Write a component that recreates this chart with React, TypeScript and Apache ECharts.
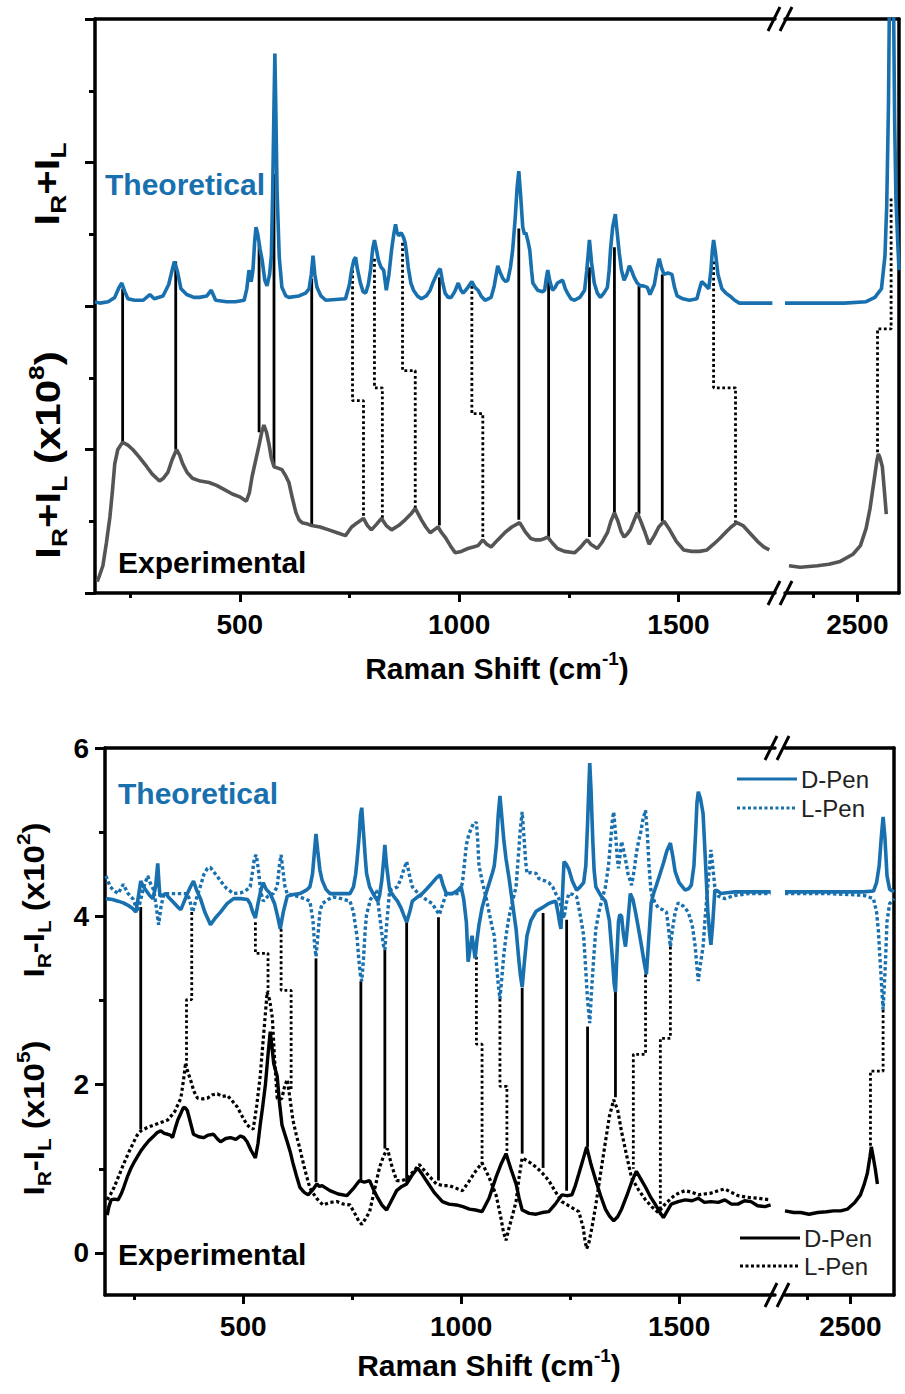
import React, { useEffect, useRef } from 'react';
import * as echarts from 'echarts';

// ---------------- TOP PANEL (I_R + I_L) ----------------
const topTheoLeft = [[170,2.03],[181,2.02],[200,2.03],[215,2.06],[225,2.13],[231,2.16],[238,2.10],[245,2.05],[260,2.04],[280,2.04],[295,2.08],[305,2.05],[325,2.07],[338,2.15],[345,2.24],[351,2.31],[358,2.24],[366,2.12],[379,2.08],[395,2.06],[408,2.06],[425,2.07],[435,2.11],[445,2.04],[470,2.03],[490,2.03],[510,2.04],[516,2.12],[521,2.25],[526,2.17],[530,2.25],[534,2.45],[537,2.55],[541,2.50],[546,2.40],[551,2.32],[557,2.18],[562,2.14],[568,2.22],[572,2.35],[575,2.8],[578,3.4],[580,3.76],[582,3.4],[585,2.8],[590,2.34],[596,2.13],[605,2.07],[612,2.06],[635,2.07],[650,2.09],[658,2.12],[663,2.22],[667,2.35],[671,2.22],[676,2.13],[685,2.07],[696,2.04],[741,2.05],[750,2.15],[755,2.25],[760,2.32],[764,2.34],[768,2.26],[775,2.16],[781,2.10],[787,2.09],[793,2.15],[798,2.25],[803,2.40],[807,2.46],[811,2.40],[816,2.32],[822,2.27],[828,2.25],[834,2.11],[840,2.22],[846,2.39],[851,2.50],[855,2.57],[858,2.52],[862,2.49],[868,2.51],[873,2.48],[877,2.44],[881,2.35],[884,2.27],[890,2.16],[896,2.11],[905,2.07],[914,2.05],[925,2.07],[934,2.11],[940,2.16],[946,2.20],[952,2.24],[957,2.26],[962,2.17],[968,2.09],[975,2.06],[982,2.06],[990,2.10],[998,2.16],[1004,2.11],[1009,2.09],[1015,2.11],[1020,2.13],[1029,2.17],[1036,2.13],[1043,2.11],[1050,2.07],[1059,2.04],[1073,2.06],[1080,2.14],[1088,2.28],[1094,2.23],[1100,2.19],[1106,2.17],[1111,2.18],[1117,2.27],[1122,2.39],[1128,2.62],[1132,2.82],[1136,2.94],[1140,2.78],[1145,2.55],[1149,2.50],[1152,2.51],[1157,2.45],[1161,2.39],[1165,2.25],[1168,2.16],[1179,2.11],[1190,2.10],[1195,2.11],[1198,2.18],[1202,2.25],[1207,2.17],[1213,2.11],[1219,2.13],[1224,2.16],[1230,2.17],[1236,2.18],[1242,2.12],[1247,2.09],[1255,2.05],[1263,2.04],[1275,2.06],[1286,2.11],[1291,2.25],[1297,2.46],[1302,2.30],[1308,2.16],[1315,2.09],[1322,2.06],[1330,2.09],[1338,2.13],[1342,2.25],[1345,2.39],[1350,2.55],[1356,2.64],[1360,2.52],[1365,2.37],[1370,2.25],[1376,2.18],[1382,2.22],[1388,2.28],[1394,2.24],[1399,2.20],[1406,2.16],[1413,2.14],[1420,2.14],[1429,2.13],[1435,2.08],[1445,2.15],[1451,2.26],[1456,2.33],[1462,2.26],[1467,2.22],[1476,2.23],[1485,2.22],[1491,2.13],[1497,2.07],[1510,2.05],[1525,2.04],[1542,2.05],[1548,2.12],[1553,2.17],[1560,2.15],[1569,2.12],[1574,2.25],[1577,2.38],[1580,2.46],[1584,2.38],[1590,2.22],[1599,2.12],[1608,2.09],[1617,2.07],[1628,2.04],[1639,2.02],[1670,2.02],[1714,2.02]];
const topTheoRight = [[2335,2.02],[2400,2.02],[2470,2.02],[2520,2.03],[2540,2.06],[2555,2.12],[2563,2.35],[2567,2.7],[2571,3.4],[2574,4.4],[2576,4.6],[2579,4.6],[2582,4.3],[2585,3.3],[2588,2.75],[2592,2.45],[2595,2.25]];
const topExpLeft = [[175,0.08],[180,0.12],[188,0.19],[196,0.35],[204,0.53],[210,0.72],[215,0.90],[222,1.00],[233,1.05],[245,1.03],[256,1.00],[270,0.95],[288,0.88],[300,0.83],[317,0.78],[326,0.80],[336,0.84],[346,0.93],[356,1.00],[363,0.96],[370,0.90],[380,0.84],[392,0.80],[410,0.78],[430,0.77],[447,0.75],[465,0.72],[483,0.69],[500,0.67],[515,0.64],[522,0.70],[528,0.81],[536,0.92],[544,1.03],[550,1.12],[555,1.17],[561,1.12],[567,1.03],[572,0.94],[578,0.88],[587,0.87],[596,0.86],[604,0.82],[612,0.77],[620,0.66],[628,0.56],[635,0.51],[642,0.49],[655,0.48],[664,0.47],[683,0.46],[703,0.44],[722,0.42],[741,0.40],[748,0.43],[755,0.46],[768,0.49],[782,0.52],[791,0.47],[800,0.44],[812,0.48],[823,0.52],[834,0.47],[846,0.44],[862,0.47],[877,0.51],[890,0.55],[900,0.59],[907,0.55],[914,0.51],[924,0.46],[934,0.42],[943,0.44],[952,0.46],[960,0.42],[968,0.39],[980,0.33],[991,0.28],[1005,0.29],[1020,0.31],[1032,0.32],[1043,0.33],[1054,0.37],[1063,0.34],[1073,0.32],[1088,0.37],[1104,0.42],[1120,0.46],[1138,0.49],[1150,0.43],[1163,0.38],[1175,0.37],[1186,0.37],[1195,0.38],[1202,0.39],[1212,0.35],[1224,0.31],[1240,0.29],[1263,0.28],[1270,0.30],[1277,0.32],[1285,0.35],[1292,0.37],[1300,0.34],[1315,0.31],[1325,0.35],[1338,0.42],[1346,0.50],[1354,0.56],[1362,0.50],[1369,0.43],[1376,0.39],[1383,0.41],[1390,0.44],[1398,0.50],[1406,0.56],[1414,0.50],[1424,0.42],[1433,0.34],[1445,0.40],[1455,0.46],[1467,0.50],[1480,0.44],[1495,0.36],[1512,0.30],[1530,0.29],[1548,0.29],[1565,0.30],[1580,0.34],[1594,0.38],[1610,0.43],[1620,0.46],[1633,0.49],[1647,0.47],[1662,0.42],[1680,0.36],[1695,0.32],[1707,0.30]];
const topExpRight = [[2344,0.19],[2370,0.18],[2409,0.19],[2435,0.20],[2461,0.22],[2490,0.27],[2507,0.33],[2520,0.45],[2529,0.59],[2538,0.78],[2545,0.93],[2548,0.97],[2552,0.94],[2557,0.88],[2562,0.70],[2566,0.55]];
// [x, yTheo, yExp]
const topSolidLinks = [[233,2.12,1.05],[354,2.31,1.00],[544,2.43,1.12],[578,2.92,0.89],[664,2.19,0.47],[955,2.20,0.47],[1136,2.54,0.51],[1204,2.19,0.39],[1297,2.27,0.39],[1354,2.41,0.55],[1410,2.14,0.55],[1463,2.22,0.50]];
// [xTheo, yTheo, yStep, xExp, yExp]
const topStepLinks = [[757,2.25,1.34,782,0.53],[807,2.33,1.43,825,0.52],[871,2.44,1.55,900,0.59],[1029,2.14,1.25,1054,0.37],[1580,2.31,1.43,1630,0.49]];
const topStepLinksRight = [[2577,2.75,1.84,2546,0.97]];

// ---------------- BOTTOM PANEL (I_R - I_L) ----------------
const botDTheoLeft = [[185,4.21],[200,4.20],[213,4.18],[225,4.16],[236,4.13],[245,4.10],[254,4.05],[260,4.25],[265,4.42],[270,4.36],[277,4.31],[285,4.25],[293,4.21],[299,4.35],[304,4.63],[307,4.38],[309,4.24],[315,4.25],[322,4.27],[330,4.22],[341,4.16],[350,4.11],[357,4.08],[365,4.18],[372,4.27],[380,4.36],[386,4.42],[394,4.30],[402,4.21],[412,4.05],[425,3.90],[436,3.98],[448,4.05],[463,4.15],[478,4.21],[495,4.21],[510,4.20],[516,4.15],[522,4.05],[528,3.98],[534,4.15],[540,4.30],[546,4.40],[553,4.32],[562,4.27],[572,4.15],[579,4.00],[585,3.85],[592,4.05],[601,4.24],[615,4.26],[630,4.27],[645,4.31],[653,4.35],[659,4.50],[664,4.80],[667,4.98],[671,4.78],[676,4.55],[681,4.43],[690,4.32],[699,4.27],[720,4.27],[745,4.27],[753,4.35],[758,4.50],[761,4.65],[766,4.95],[769,5.20],[772,5.29],[776,5.0],[780,4.70],[783,4.51],[790,4.35],[800,4.25],[809,4.18],[813,4.25],[818,4.43],[822,4.65],[825,4.85],[829,4.60],[836,4.31],[845,4.24],[854,4.18],[862,4.10],[868,4.02],[875,3.93],[882,4.05],[888,4.18],[900,4.23],[911,4.27],[922,4.33],[934,4.40],[944,4.46],[952,4.49],[958,4.38],[966,4.27],[980,4.27],[990,4.30],[1000,4.35],[1006,4.20],[1012,3.93],[1016,3.46],[1020,3.60],[1025,3.77],[1029,3.62],[1032,3.50],[1036,3.70],[1041,3.90],[1048,4.10],[1057,4.27],[1066,4.42],[1072,4.52],[1076,4.60],[1081,4.85],[1085,5.20],[1089,5.43],[1093,5.20],[1098,4.90],[1103,4.68],[1110,4.45],[1118,4.15],[1126,3.85],[1132,3.50],[1136,3.30],[1140,3.16],[1145,3.45],[1151,3.77],[1160,3.95],[1172,4.06],[1185,4.10],[1200,4.15],[1210,4.17],[1217,4.18],[1222,4.05],[1226,3.92],[1229,3.85],[1232,4.20],[1236,4.65],[1241,4.62],[1247,4.56],[1255,4.42],[1265,4.31],[1273,4.35],[1281,4.40],[1286,4.60],[1290,5.10],[1293,5.55],[1295,5.82],[1298,5.50],[1302,4.90],[1305,4.55],[1309,4.35],[1320,4.25],[1331,4.18],[1340,3.95],[1347,3.50],[1351,3.20],[1354,3.10],[1357,3.50],[1361,3.94],[1364,4.02],[1368,4.00],[1372,3.80],[1377,3.64],[1382,3.90],[1388,4.27],[1394,4.20],[1400,4.05],[1407,3.85],[1414,3.64],[1420,3.45],[1425,3.31],[1430,3.70],[1436,4.16],[1442,4.28],[1448,4.37],[1456,4.50],[1464,4.63],[1472,4.78],[1480,4.87],[1486,4.70],[1491,4.53],[1500,4.40],[1514,4.31],[1522,4.33],[1528,4.37],[1534,4.60],[1538,5.00],[1541,5.35],[1544,5.48],[1549,5.40],[1555,5.22],[1560,4.70],[1566,4.05],[1570,3.80],[1573,3.66],[1577,3.90],[1582,4.31],[1589,4.30],[1596,4.27],[1610,4.28],[1628,4.29],[1660,4.29],[1710,4.29]];
const botDTheoRight = [[2350,4.29],[2450,4.29],[2530,4.29],[2553,4.30],[2560,4.40],[2566,4.60],[2571,4.95],[2575,5.18],[2579,4.95],[2584,4.48],[2590,4.32],[2600,4.29]];
const botLTheoLeft = [[185,4.48],[195,4.35],[205,4.30],[213,4.27],[225,4.38],[236,4.27],[248,4.20],[258,4.05],[265,4.20],[272,4.35],[281,4.48],[288,4.38],[295,4.31],[301,4.10],[306,3.90],[311,4.10],[318,4.27],[330,4.27],[341,4.27],[357,4.27],[372,4.27],[378,4.18],[384,4.05],[392,4.20],[402,4.36],[410,4.50],[418,4.57],[425,4.58],[432,4.53],[440,4.48],[448,4.42],[462,4.33],[478,4.27],[495,4.28],[505,4.30],[516,4.35],[522,4.55],[526,4.70],[530,4.73],[535,4.55],[540,4.30],[546,4.18],[557,4.24],[569,4.27],[578,4.35],[583,4.60],[587,4.73],[591,4.55],[596,4.35],[601,4.27],[615,4.25],[630,4.23],[645,4.20],[653,4.18],[660,3.95],[664,3.65],[667,3.52],[671,3.75],[676,4.05],[681,4.15],[695,4.20],[706,4.23],[725,4.21],[745,4.18],[753,4.05],[757,3.90],[761,3.77],[765,3.50],[769,3.30],[772,3.23],[776,3.50],[780,3.85],[783,4.02],[792,4.20],[806,4.31],[812,4.05],[818,3.80],[822,3.65],[825,3.60],[829,3.90],[836,4.31],[845,4.33],[854,4.35],[862,4.45],[868,4.55],[875,4.65],[881,4.50],[888,4.35],[900,4.28],[911,4.23],[922,4.19],[934,4.15],[942,4.08],[950,4.02],[958,4.15],[966,4.27],[980,4.27],[996,4.27],[1003,4.40],[1008,4.65],[1012,4.85],[1018,4.98],[1023,5.04],[1028,5.10],[1032,5.10],[1035,5.12],[1038,4.90],[1041,4.60],[1049,4.40],[1057,4.23],[1066,4.00],[1072,3.85],[1076,3.77],[1080,3.50],[1085,3.20],[1089,3.02],[1093,3.25],[1098,3.55],[1103,3.77],[1110,4.00],[1118,4.18],[1126,4.35],[1131,4.70],[1136,5.05],[1140,5.24],[1144,4.95],[1148,4.65],[1151,4.51],[1160,4.52],[1172,4.51],[1178,4.45],[1185,4.43],[1193,4.42],[1201,4.40],[1210,4.35],[1217,4.27],[1225,4.20],[1230,4.10],[1236,3.98],[1241,4.15],[1247,4.27],[1256,4.26],[1265,4.23],[1272,4.05],[1277,3.90],[1281,3.77],[1286,3.35],[1290,3.00],[1295,2.73],[1299,3.10],[1304,3.50],[1309,3.85],[1316,4.05],[1324,4.22],[1331,4.35],[1338,4.60],[1343,4.90],[1347,5.15],[1350,5.24],[1354,5.00],[1358,4.70],[1361,4.57],[1365,4.75],[1368,4.89],[1372,4.80],[1377,4.68],[1383,4.50],[1391,4.37],[1397,4.55],[1402,4.75],[1407,4.89],[1412,5.00],[1417,5.15],[1423,5.26],[1427,5.00],[1431,4.60],[1436,4.27],[1444,4.17],[1452,4.10],[1462,4.08],[1471,4.05],[1476,3.85],[1480,3.64],[1485,3.85],[1491,4.05],[1498,4.16],[1510,4.12],[1521,4.05],[1530,3.90],[1537,3.64],[1541,3.40],[1544,3.23],[1548,3.40],[1555,3.64],[1560,4.00],[1566,4.37],[1570,4.60],[1573,4.79],[1577,4.60],[1582,4.35],[1590,4.24],[1605,4.21],[1630,4.25],[1660,4.27],[1710,4.27]];
const botLTheoRight = [[2350,4.27],[2450,4.27],[2530,4.25],[2553,4.21],[2560,4.05],[2564,3.84],[2569,3.40],[2575,2.89],[2580,3.40],[2584,3.94],[2590,4.15],[2600,4.21]];
const botDExpLeft = [[188,0.45],[192,0.55],[197,0.63],[205,0.64],[213,0.63],[220,0.70],[226,0.78],[234,0.90],[242,1.00],[250,1.08],[258,1.15],[265,1.21],[272,1.26],[283,1.33],[295,1.39],[303,1.43],[311,1.45],[319,1.42],[327,1.41],[333,1.40],[338,1.37],[344,1.48],[350,1.58],[357,1.66],[363,1.73],[368,1.72],[372,1.69],[379,1.55],[386,1.41],[398,1.38],[409,1.37],[420,1.40],[432,1.41],[440,1.36],[448,1.32],[460,1.36],[471,1.37],[483,1.35],[494,1.39],[502,1.37],[509,1.32],[518,1.22],[528,1.13],[534,1.30],[539,1.52],[545,1.75],[551,2.00],[556,2.30],[562,2.63],[566,2.45],[570,2.25],[578,2.10],[583,1.80],[589,1.52],[595,1.42],[601,1.32],[608,1.20],[614,1.07],[622,0.92],[630,0.78],[640,0.72],[649,0.69],[658,0.74],[669,0.82],[675,0.79],[681,0.80],[690,0.77],[699,0.74],[718,0.70],[738,0.68],[752,0.76],[767,0.86],[778,0.84],[790,0.86],[800,0.74],[809,0.65],[818,0.57],[829,0.51],[840,0.62],[852,0.74],[864,0.79],[875,0.82],[887,0.92],[900,1.01],[910,0.94],[920,0.86],[938,0.72],[957,0.61],[972,0.58],[989,0.57],[1004,0.55],[1019,0.52],[1033,0.51],[1048,0.49],[1064,0.65],[1080,0.90],[1092,1.06],[1103,1.18],[1114,1.00],[1126,0.82],[1133,0.65],[1140,0.51],[1156,0.47],[1172,0.46],[1186,0.48],[1201,0.49],[1216,0.58],[1231,0.69],[1242,0.68],[1254,0.69],[1262,0.80],[1270,0.94],[1279,1.10],[1288,1.26],[1298,1.05],[1309,0.86],[1320,0.68],[1331,0.52],[1340,0.44],[1350,0.38],[1359,0.43],[1368,0.52],[1380,0.68],[1391,0.84],[1396,0.90],[1402,0.97],[1412,0.88],[1423,0.78],[1434,0.67],[1445,0.58],[1455,0.49],[1464,0.42],[1473,0.50],[1482,0.58],[1498,0.61],[1514,0.63],[1530,0.62],[1544,0.65],[1558,0.60],[1573,0.61],[1590,0.60],[1605,0.63],[1620,0.58],[1635,0.58],[1650,0.62],[1665,0.61],[1680,0.56],[1697,0.55],[1710,0.57]];
const botDExpRight = [[2350,0.50],[2370,0.48],[2386,0.48],[2405,0.46],[2425,0.48],[2445,0.49],[2461,0.50],[2478,0.50],[2493,0.52],[2510,0.60],[2523,0.69],[2532,0.82],[2539,0.95],[2545,1.15],[2548,1.26],[2553,1.12],[2557,1.00],[2562,0.82]];
const botLExpLeft = [[188,0.63],[196,0.70],[204,0.78],[215,0.92],[226,1.06],[238,1.20],[249,1.32],[257,1.40],[265,1.45],[280,1.49],[295,1.52],[311,1.55],[327,1.58],[343,1.68],[357,1.84],[363,2.05],[368,2.26],[373,2.15],[379,2.06],[387,1.92],[395,1.84],[407,1.83],[418,1.84],[430,1.88],[441,1.89],[452,1.86],[464,1.87],[476,1.80],[487,1.73],[498,1.62],[509,1.52],[516,1.49],[523,1.47],[531,1.75],[539,2.10],[547,2.60],[555,3.10],[561,3.00],[567,2.79],[572,2.30],[578,1.84],[584,1.82],[589,1.84],[595,1.98],[601,2.06],[607,1.85],[614,1.58],[622,1.40],[630,1.24],[641,1.00],[653,0.77],[668,0.65],[683,0.57],[699,0.60],[715,0.61],[730,0.58],[745,0.57],[758,0.45],[765,0.38],[772,0.34],[780,0.40],[790,0.49],[800,0.72],[813,1.02],[822,1.15],[831,1.24],[840,1.05],[852,0.86],[864,0.86],[875,0.88],[889,0.96],[904,1.05],[922,0.94],[943,0.82],[958,0.80],[973,0.80],[988,0.77],[1003,0.74],[1018,0.85],[1033,0.97],[1048,1.07],[1064,0.90],[1080,0.69],[1090,0.45],[1097,0.25],[1103,0.15],[1110,0.30],[1118,0.45],[1126,0.61],[1133,0.90],[1140,1.13],[1156,1.08],[1172,1.02],[1186,0.95],[1201,0.86],[1216,0.73],[1231,0.61],[1250,0.55],[1270,0.49],[1280,0.30],[1284,0.15],[1288,0.05],[1293,0.12],[1300,0.30],[1309,0.57],[1320,0.95],[1331,1.32],[1340,1.62],[1350,1.82],[1359,1.70],[1368,1.44],[1380,1.15],[1391,0.89],[1407,0.75],[1423,0.63],[1437,0.55],[1452,0.48],[1460,0.53],[1468,0.58],[1480,0.64],[1491,0.69],[1503,0.72],[1514,0.74],[1530,0.72],[1544,0.69],[1558,0.70],[1573,0.71],[1590,0.74],[1605,0.76],[1620,0.72],[1635,0.68],[1660,0.66],[1681,0.65],[1710,0.63]];
const botSolidLinks = [[265,4.11,1.47],[667,3.50,0.84],[770,3.23,0.86],[825,3.60,1.24],[875,3.93,0.84],[948,3.99,0.86],[1140,3.15,1.18],[1188,4.04,1.01],[1242,3.96,0.74],[1290,2.69,1.26],[1354,3.10,1.85]];
const botStepLinks = [[382,4.05,3.01,370,2.26],[528,3.93,3.56,557,3.10],[587,3.85,3.12,610,1.94],[1035,3.52,2.48,1048,1.05],[1089,3.02,1.98,1105,1.21],[1423,3.31,2.36,1395,1.00],[1480,3.64,2.55,1457,0.42]];
const botStepLinksRight = [[2575,2.89,2.16,2546,1.26]];

// ---------------- AXES ----------------
const topLeftRange = [170, 1720];
const topRightRange = [2335, 2595];
const botLeftRange = [183, 1720];
const botRightRange = [2350, 2600];
const xMajorLeft = [500, 1000, 1500];
const xMinorLeft = [250, 750, 1250];
const xMajorRight = [2500];
const xMinorRight = [2400];
const topYRange = [0, 4];
const botYRange = [-0.5, 6];
const botYMajor = [0, 2, 4, 6];
const botYMinor = [1, 3, 5];

const FONT = "Arial, 'Liberation Sans', Helvetica, sans-serif";
const BLUE = '#1870ae';
const GRAY = '#555555';
const BLACK = '#000';

const axisLineStyle = { show: true, onZero: false, lineStyle: { color: BLACK, width: 3.5 } };
const tickLine = { color: BLACK, width: 3 };
const labelStyle = { fontFamily: FONT, fontWeight: 'bold', fontSize: 28, color: BLACK, formatter: (v: number) => String(v) };

function xMain(gridIndex: number, range: number[], majors: number[]) {
  return {
    type: 'value', gridIndex, min: range[0], max: range[1], position: 'bottom',
    axisLine: axisLineStyle,
    axisTick: { show: true, length: 9, lineStyle: tickLine, customValues: majors },
    axisLabel: { show: true, customValues: majors, margin: 17, ...labelStyle },
    splitLine: { show: false },
  };
}
function xMinor(gridIndex: number, range: number[], minors: number[]) {
  return {
    type: 'value', gridIndex, min: range[0], max: range[1], position: 'bottom',
    axisLine: { show: false, onZero: false },
    axisTick: { show: true, length: 5, lineStyle: tickLine, customValues: minors },
    axisLabel: { show: false },
    splitLine: { show: false },
  };
}
function xTop(gridIndex: number, range: number[]) {
  return {
    type: 'value', gridIndex, min: range[0], max: range[1], position: 'top',
    axisLine: axisLineStyle, axisTick: { show: false }, axisLabel: { show: false }, splitLine: { show: false },
  };
}
function yRightLine(gridIndex: number, range: number[]) {
  return {
    type: 'value', gridIndex, min: range[0], max: range[1], position: 'right',
    axisLine: axisLineStyle, axisTick: { show: false }, axisLabel: { show: false }, splitLine: { show: false },
  };
}

function line(data: any[], xi: number, yi: number, color: string, width: number, type: any = 'solid', z = 3) {
  return {
    type: 'line', data, xAxisIndex: xi, yAxisIndex: yi, showSymbol: false, symbol: 'none',
    lineStyle: { color, width, type }, silent: true, clip: true, z, animation: false,
  };
}
function solidLinks(links: number[][], xi: number, yi: number) {
  return links.map((l) => line([[l[0], l[1]], [l[0], l[2]]], xi, yi, BLACK, 2.8, 'solid', 2));
}
function stepLinks(links: number[][], xi: number, yi: number) {
  return links.map((l) => line([[l[0], l[1]], [l[0], l[2]], [l[3], l[2]], [l[3], l[4]]], xi, yi, BLACK, 2.8, [2.8, 2.6], 2));
}

function makeRich(size: number, sub: number) {
  return {
    n: { fontSize: size, fontWeight: 'bold', fontFamily: FONT, lineHeight: size + 10, verticalAlign: 'middle', fill: BLACK },
    s: { fontSize: sub, fontWeight: 'bold', fontFamily: FONT, lineHeight: sub, verticalAlign: 'bottom', fill: BLACK },
    p: { fontSize: sub, fontWeight: 'bold', fontFamily: FONT, lineHeight: sub, verticalAlign: 'top', fill: BLACK },
  };
}
const richTop = makeRich(35, 22);
const richBot = makeRich(30, 19);
const richX = {
  t: { fontSize: 30, fontWeight: 'bold', fontFamily: FONT, lineHeight: 38, verticalAlign: 'middle', fill: BLACK },
  p: { fontSize: 19, fontWeight: 'bold', fontFamily: FONT, lineHeight: 19, verticalAlign: 'top', fill: BLACK },
};

function vText(x: number, y: number, text: string, rich: any, stretch: number) {
  return { type: 'text', x, y, rotation: Math.PI / 2, scaleX: stretch, silent: true, style: { text, rich, align: 'center', verticalAlign: 'middle' } };
}
function hText(x: number, y: number, text: string, color: string, size: number, weight = 'bold', align = 'left') {
  return { type: 'text', x, y, silent: true, style: { text, fill: color, fontSize: size, fontWeight: weight, fontFamily: FONT, align, verticalAlign: 'middle' } };
}
function slashes(x: number, y: number) {
  const st = { stroke: BLACK, lineWidth: 3 };
  return [
    { type: 'line', silent: true, shape: { x1: x - 7, y1: y + 12, x2: x + 5, y2: y - 12 }, style: st },
    { type: 'line', silent: true, shape: { x1: x + 5, y1: y + 12, x2: x + 17, y2: y - 12 }, style: st },
  ];
}
function legendLine(x1: number, x2: number, y: number, color: string, dash: any) {
  return { type: 'line', silent: true, shape: { x1, y1: y, x2, y2: y }, style: { stroke: color, lineWidth: 3, lineDash: dash } };
}

function buildOption() {
  return {
    animation: false,
    backgroundColor: '#fff',
    grid: [
      { left: 95, top: 19, width: 680, height: 574, containLabel: false },
      { left: 785, top: 19, width: 114, height: 574, containLabel: false },
      { left: 105, top: 748, width: 670, height: 547, containLabel: false },
      { left: 785, top: 748, width: 109, height: 547, containLabel: false },
    ],
    xAxis: [
      xMain(0, topLeftRange, xMajorLeft), xMinor(0, topLeftRange, xMinorLeft), xTop(0, topLeftRange),
      xMain(1, topRightRange, xMajorRight), xMinor(1, topRightRange, xMinorRight), xTop(1, topRightRange),
      xMain(2, botLeftRange, xMajorLeft), xMinor(2, botLeftRange, xMinorLeft), xTop(2, botLeftRange),
      xMain(3, botRightRange, xMajorRight), xMinor(3, botRightRange, xMinorRight), xTop(3, botRightRange),
    ],
    yAxis: [
      {
        type: 'value', gridIndex: 0, min: topYRange[0], max: topYRange[1], interval: 1, position: 'left',
        axisLine: axisLineStyle,
        axisTick: { show: true, length: 10, lineStyle: tickLine },
        minorTick: { show: true, splitNumber: 2, length: 6, lineStyle: tickLine },
        axisLabel: { show: false }, splitLine: { show: false }, minorSplitLine: { show: false },
      },
      yRightLine(1, topYRange),
      {
        type: 'value', gridIndex: 2, min: botYRange[0], max: botYRange[1], position: 'left',
        axisLine: axisLineStyle,
        axisTick: { show: true, length: 10, lineStyle: tickLine, customValues: botYMajor },
        axisLabel: { show: true, customValues: botYMajor, margin: 16, ...labelStyle },
        splitLine: { show: false },
      },
      {
        type: 'value', gridIndex: 2, min: botYRange[0], max: botYRange[1], position: 'left',
        axisLine: { show: false, onZero: false },
        axisTick: { show: true, length: 6, lineStyle: tickLine, customValues: botYMinor },
        axisLabel: { show: false }, splitLine: { show: false },
      },
      yRightLine(3, botYRange),
    ],
    series: [
      ...solidLinks(topSolidLinks, 0, 0),
      ...stepLinks(topStepLinks, 0, 0),
      ...stepLinks(topStepLinksRight, 3, 1),
      line(topTheoLeft, 0, 0, BLUE, 3.6),
      line(topTheoRight, 3, 1, BLUE, 3.6),
      line(topExpLeft, 0, 0, GRAY, 3.6),
      line(topExpRight, 3, 1, GRAY, 3.6),

      ...solidLinks(botSolidLinks, 6, 2),
      ...stepLinks(botStepLinks, 6, 2),
      ...stepLinks(botStepLinksRight, 9, 4),
      line(botLTheoLeft, 6, 2, BLUE, 3.4, [3.4, 2.6]),
      line(botLTheoRight, 9, 4, BLUE, 3.4, [3.4, 2.6]),
      line(botDTheoLeft, 6, 2, BLUE, 3.6),
      line(botDTheoRight, 9, 4, BLUE, 3.6),
      line(botLExpLeft, 6, 2, BLACK, 3.2, [3.2, 2.6]),
      line(botDExpLeft, 6, 2, BLACK, 3.4),
      line(botDExpRight, 9, 4, BLACK, 3.4),
    ],
    graphic: [
      hText(105, 184, 'Theoretical', BLUE, 30),
      hText(118, 562, 'Experimental', BLACK, 30),
      hText(118, 793, 'Theoretical', BLUE, 30),
      hText(118, 1254, 'Experimental', BLACK, 30),
      vText(47, 184, '{n|I}{s|R}{n|+I}{s|L}', richTop, 1.2),
      vText(48, 455, '{n|I}{s|R}{n|+I}{s|L}{n| (x10}{p|8}{n|)}', richTop, 1.2),
      vText(34, 900, '{n|I}{s|R}{n|-I}{s|L}{n| (x10}{p|2}{n|)}', richBot, 1.1),
      vText(34, 1118, '{n|I}{s|R}{n|-I}{s|L}{n| (x10}{p|5}{n|)}', richBot, 1.1),
      { type: 'text', x: 497, y: 668, silent: true, style: { text: '{t|Raman Shift (cm}{p|-1}{t|)}', rich: richX, align: 'center', verticalAlign: 'middle' } },
      { type: 'text', x: 489, y: 1365, silent: true, style: { text: '{t|Raman Shift (cm}{p|-1}{t|)}', rich: richX, align: 'center', verticalAlign: 'middle' } },
      ...slashes(775, 593), ...slashes(775, 19),
      ...slashes(772, 1295), ...slashes(772, 748),
      legendLine(737, 797, 779, BLUE, null),
      hText(801, 779, 'D-Pen', '#222', 24, 'normal'),
      legendLine(737, 797, 808, BLUE, [3, 2.5]),
      hText(801, 808, 'L-Pen', '#222', 24, 'normal'),
      legendLine(740, 800, 1238, BLACK, null),
      hText(804, 1238, 'D-Pen', '#222', 24, 'normal'),
      legendLine(740, 800, 1266, BLACK, [3, 2.5]),
      hText(804, 1266, 'L-Pen', '#222', 24, 'normal'),
    ],
  };
}

export default function App() {
  const ref = useRef<HTMLDivElement>(null);
  useEffect(() => {
    if (!ref.current) return;
    const chart = echarts.init(ref.current, null, { renderer: 'svg', width: 905, height: 1394 });
    chart.setOption(buildOption() as any);
    return () => chart.dispose();
  }, []);
  return <div ref={ref} style={{ position: 'absolute', left: 0, top: 0, width: 905, height: 1394, background: '#fff' }} />;
}
